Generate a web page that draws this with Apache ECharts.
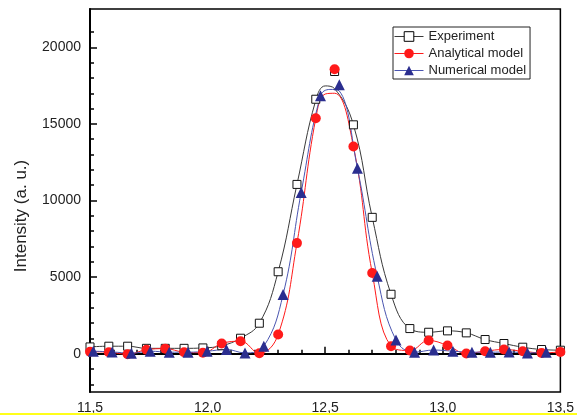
<!DOCTYPE html>
<html><head><meta charset="utf-8">
<script src="https://cdn.jsdelivr.net/npm/echarts@6/dist/echarts.min.js"></script>
<style>html,body{margin:0;padding:0;background:#fff}#c{width:577px;height:415px}</style>
</head><body><div id="c"></div>
<script>
const seriesNames = ['Experiment', 'Analytical model', 'Numerical model'];
const yTitle = 'Intensity (a. u.)';
const yTickLabels = [0, 5000, 10000, 15000, 20000];
const yMinorTicks = [-2000, -1000, 1000, 2000, 3000, 4000, 6000, 7000, 8000, 9000, 11000, 12000, 13000, 14000, 16000, 17000, 18000, 19000, 21000];

// Experiment (open squares)
const xExp = [11.50, 11.58, 11.66, 11.74, 11.82, 11.90, 11.98, 12.06, 12.14, 12.22, 12.30, 12.38, 12.46, 12.54, 12.62, 12.70, 12.78, 12.86, 12.94, 13.02, 13.10, 13.18, 13.26, 13.34, 13.42, 13.50];
const yExp = [443, 489, 489, 350, 350, 350, 378, 520, 1010, 1990, 5350, 11050, 16610, 18420, 14940, 8900, 3880, 1640, 1400, 1490, 1360, 925, 665, 424, 274, 228];
// Experiment fitted curve
const xExpCurve = [11.50, 11.58, 11.66, 11.74, 11.82, 11.90, 11.98, 12.06, 12.14, 12.22, 12.30, 12.38, 12.46, 12.50, 12.54, 12.62, 12.70, 12.78, 12.86, 12.94, 13.02, 13.10, 13.18, 13.26, 13.34, 13.42, 13.50];
const yExpCurve = [443, 489, 489, 350, 350, 350, 378, 520, 1010, 1990, 5350, 11050, 16550, 17480, 17300, 14940, 8900, 3880, 1640, 1400, 1490, 1360, 925, 665, 424, 274, 228];

// Analytical model (red circles)
const xAna = [11.50, 11.58, 11.66, 11.74, 11.82, 11.90, 11.98, 12.06, 12.14, 12.22, 12.30, 12.38, 12.46, 12.54, 12.62, 12.70, 12.78, 12.86, 12.94, 13.02, 13.10, 13.18, 13.26, 13.34, 13.42, 13.50];
const yAna = [130, 100, -30, 260, 330, 100, 65, 665, 815, 30, 1250, 7220, 15370, 18570, 13530, 5270, 490, 210, 860, 540, 13, 163, 274, 163, 52, 117];
const xAnaCurve = [11.50, 11.58, 11.66, 11.74, 11.82, 11.90, 11.98, 12.06, 12.14, 12.22, 12.30, 12.38, 12.46, 12.50, 12.54, 12.62, 12.70, 12.78, 12.86, 12.94, 13.02, 13.10, 13.18, 13.26, 13.34, 13.42, 13.50];
const yAnaCurve = [130, 100, -30, 260, 330, 100, 65, 665, 815, 30, 1250, 7220, 15370, 16950, 17000, 13530, 5270, 490, 210, 860, 540, 13, 163, 274, 163, 52, 117];

// Numerical model (blue triangles)
const xNum = [11.514, 11.594, 11.676, 11.756, 11.837, 11.917, 11.998, 12.080, 12.159, 12.239, 12.321, 12.398, 12.480, 12.560, 12.637, 12.721, 12.801, 12.880, 12.961, 13.043, 13.124, 13.202, 13.282, 13.360, 13.440];
const yNum = [163, 117, 33, 163, 98, 98, 163, 274, 52, 490, 3860, 10530, 16830, 17550, 12110, 5050, 890, 98, 240, 163, 98, 98, 117, 52, 98];
const xNumCurve = [11.514, 11.594, 11.676, 11.756, 11.837, 11.917, 11.998, 12.080, 12.159, 12.239, 12.321, 12.398, 12.480, 12.520, 12.560, 12.637, 12.721, 12.801, 12.880, 12.961, 13.043, 13.124, 13.202, 13.282, 13.360, 13.440];
const yNumCurve = [163, 117, 33, 163, 98, 98, 163, 274, 52, 490, 3860, 10530, 16830, 17250, 17150, 12110, 5050, 890, 98, 240, 163, 98, 98, 117, 52, 98];

const zip = (xs, ys) => xs.map((x, i) => [x, ys[i]]);
const FONT = "'Liberation Sans', Arial, sans-serif";
const C_EXP = '#3a3a3a', C_ANA = '#ff1a1a', C_NUM_LINE = '#4a55b0', C_NUM = '#2b2e8f';
const SMOOTH = 0.42;

const chart = echarts.init(document.getElementById('c'), null, {renderer: 'canvas'});
chart.setOption({
  animation: false,
  backgroundColor: '#fff',
  textStyle: {fontFamily: FONT},
  grid: {left: 90, right: 12, top: 9, bottom: 23, show: true, borderColor: '#000', borderWidth: 1.5, backgroundColor: 'transparent'},
  legend: {
    left: 393, top: 27, orient: 'vertical',
    padding: [3, 4, 2, 1], itemGap: 4, itemWidth: 29, itemHeight: 12,
    borderColor: '#222', borderWidth: 1, backgroundColor: '#fff',
    textStyle: {fontFamily: FONT, fontSize: 13, color: '#222'},
    data: [
      {name: seriesNames[0], itemStyle: {color: '#fff', borderColor: '#000', borderWidth: 1}, lineStyle: {color: C_EXP, width: 1}},
      {name: seriesNames[1], itemStyle: {color: C_ANA, borderWidth: 0}, lineStyle: {color: C_ANA, width: 1}},
      {name: seriesNames[2], itemStyle: {color: C_NUM, borderWidth: 0}, lineStyle: {color: C_NUM_LINE, width: 1}}
    ]
  },
  xAxis: {
    type: 'value', min: 11.5, max: 13.5, interval: 0.5,
    axisLine: {show: true, lineStyle: {color: '#000', width: 2}},
    axisTick: {show: true, inside: true, length: 7, lineStyle: {color: '#000', width: 1.5}},
    minorTick: {show: true, splitNumber: 5, length: 4, lineStyle: {color: '#000', width: 1.5}},
    splitLine: {show: false},
    axisLabel: {fontFamily: FONT, fontSize: 14, color: '#222', margin: 9,
      formatter: v => v.toFixed(1).replace('.', ',')}
  },
  yAxis: [{
    type: 'value', min: -2500, max: 22500,
    axisLine: {show: true, lineStyle: {color: '#000', width: 2}},
    axisTick: {show: true, inside: true, length: 7, customValues: yTickLabels, lineStyle: {color: '#000', width: 1.5}},
    axisLabel: {fontFamily: FONT, fontSize: 14, color: '#222', margin: 9, customValues: yTickLabels,
      formatter: v => String(Math.round(v))},
    splitLine: {show: false}
  }, {
    type: 'value', min: -2500, max: 22500, position: 'left',
    axisLine: {show: false},
    axisTick: {show: true, inside: true, length: 4, customValues: yMinorTicks, lineStyle: {color: '#000', width: 1.5}},
    axisLabel: {show: false},
    splitLine: {show: false}
  }],
  series: [
    {name: seriesNames[0], type: 'line', smooth: SMOOTH, showSymbol: false, symbol: 'rect',
     data: zip(xExpCurve, yExpCurve), lineStyle: {color: C_EXP, width: 1}, itemStyle: {color: '#fff', borderColor: '#000'}, z: 2},
    {name: seriesNames[1], type: 'line', smooth: SMOOTH, showSymbol: false, symbol: 'circle',
     data: zip(xAnaCurve, yAnaCurve), lineStyle: {color: C_ANA, width: 1}, itemStyle: {color: C_ANA}, z: 2},
    {name: seriesNames[2], type: 'line', smooth: SMOOTH, showSymbol: false, symbol: 'triangle',
     data: zip(xNumCurve, yNumCurve), lineStyle: {color: C_NUM_LINE, width: 1}, itemStyle: {color: C_NUM}, z: 2},
    {name: 'exp-pts', type: 'scatter', symbol: 'rect', symbolSize: 8, data: zip(xExp, yExp),
     itemStyle: {color: '#fff', borderColor: '#111', borderWidth: 1, opacity: 1}, z: 3},
    {name: 'ana-pts', type: 'scatter', symbol: 'circle', symbolSize: 10, data: zip(xAna, yAna),
     itemStyle: {color: C_ANA, opacity: 1}, z: 4},
    {name: 'num-pts', type: 'scatter', symbol: 'triangle', symbolSize: 11, data: zip(xNum, yNum),
     itemStyle: {color: C_NUM, opacity: 1}, z: 5}
  ],
  graphic: [
    {type: 'text', x: 21, y: 216, rotation: Math.PI / 2,
     style: {text: yTitle, font: "17px 'Liberation Sans', Arial, sans-serif", fill: '#222', align: 'center', verticalAlign: 'middle'}},
    {type: 'rect', left: 0, top: 413, shape: {width: 577, height: 2}, style: {fill: '#ffff1a'}, z: 100}
  ]
});
</script></body></html>
